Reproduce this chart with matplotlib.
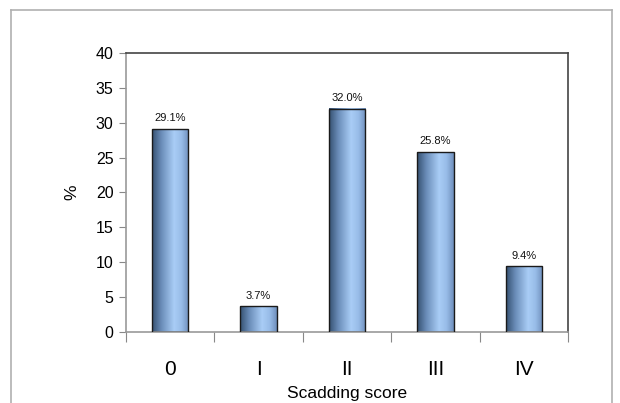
import matplotlib
matplotlib.use('Agg')
import matplotlib.pyplot as plt
import numpy as np
from matplotlib.colors import LinearSegmentedColormap
from matplotlib.lines import Line2D

# Dữ liệu
categories = ['0', 'I', 'II', 'III', 'IV']
values = [29.1, 3.7, 32.0, 25.8, 9.4]
value_labels = ['29.1%', '3.7%', '32.0%', '25.8%', '9.4%']
y_ticks = [0, 5, 10, 15, 20, 25, 30, 35, 40]

plt.rcParams['font.family'] = ['Liberation Sans', 'DejaVu Sans']

fig = plt.figure(figsize=(6.2, 4.03), dpi=100)
ax = fig.add_axes([0.2032, 0.1762, 0.7129, 0.6923])

# khung ngoài
frame_color = '#b0b0b0'
fig.add_artist(Line2D([0.017, 0.017], [0.0, 0.975], transform=fig.transFigure, color=frame_color, lw=1.2))
fig.add_artist(Line2D([0.017, 0.987], [0.975, 0.975], transform=fig.transFigure, color=frame_color, lw=1.2))
fig.add_artist(Line2D([0.987, 0.987], [0.0, 0.975], transform=fig.transFigure, color=frame_color, lw=1.2))

x = np.arange(len(categories))
bars = ax.bar(x, values, width=0.41, color='none', edgecolor='#1a1a1a', linewidth=1.0, zorder=3)

# gradient ngang cho cột
cmap = LinearSegmentedColormap.from_list('bar', [
    (0.0, '#34506f'), (0.25, '#6a8cb8'), (0.6, '#a9cdf6'), (0.8, '#98bce8'), (1.0, '#6f8fbc')])
grad = np.linspace(0, 1, 256).reshape(1, -1)
for b in bars:
    x0, w, h = b.get_x(), b.get_width(), b.get_height()
    ax.imshow(grad, cmap=cmap, aspect='auto', extent=(x0, x0 + w, 0, h), zorder=2)

for xi, v, lab in zip(x, values, value_labels):
    ax.annotate(lab, (xi, v), xytext=(0, 4), textcoords='offset points',
                ha='center', va='bottom', fontsize=8, color='#111111')

ax.set_xlim(-0.5, len(categories) - 0.5)
ax.set_ylim(0, 40)
ax.set_yticks(y_ticks)
ax.tick_params(axis='y', labelsize=11.5, length=5, color='#888888', pad=4)

# tick giữa các nhóm, nhãn ở giữa
ax.set_xticks(np.arange(-0.5, len(categories), 1.0))
ax.set_xticklabels([])
ax.set_xticks(x, minor=True)
ax.set_xticklabels(categories, minor=True, fontsize=15)
ax.tick_params(axis='x', which='major', length=7, color='#888888')
ax.tick_params(axis='x', which='minor', length=0, pad=20)

ax.spines['left'].set_color('#999999')
ax.spines['bottom'].set_color('#999999')
ax.spines['top'].set_color('#444444')
ax.spines['right'].set_color('#444444')
for s in ax.spines.values():
    s.set_linewidth(1.2)

ax.set_ylabel('%', fontsize=12.5, labelpad=12)
ax.set_xlabel('Scadding score', fontsize=12.5, labelpad=5)

fig.savefig('out.png', dpi=100)
